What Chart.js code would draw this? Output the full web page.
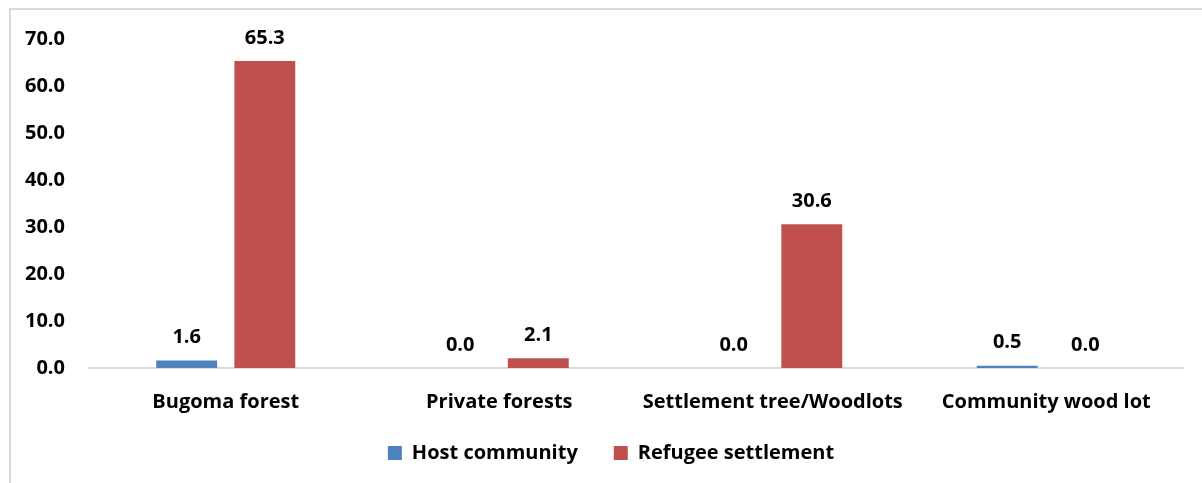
<!DOCTYPE html>
<html>
<head>
<meta charset="utf-8">
<script src="https://cdn.jsdelivr.net/npm/chart.js@4.4.1/dist/chart.umd.min.js"></script>
<style>
  html, body { margin: 0; padding: 0; background: #fff; }
  #wrap { position: relative; width: 1202px; height: 483px; overflow: hidden; }
  #frame { position: absolute; left: 9px; top: 8px; width: 1240px; height: 520px; border: 2px solid #d9d9d9; box-sizing: border-box; }
  #c { position: absolute; left: 0; top: 0; }
</style>
</head>
<body>
<div id="wrap">
  <div id="frame"></div>
  <canvas id="c" width="1202" height="483"></canvas>
</div>
<script>
const categories = ['Bugoma forest', 'Private forests', 'Settlement tree/Woodlots', 'Community wood lot'];
const hostValues = [1.6, 0.0, 0.0, 0.5];
const refugeeValues = [65.3, 2.1, 30.6, 0.0];
const yTicks = [0, 10, 20, 30, 40, 50, 60, 70];

const FONT = '"Open Sans", "Noto Sans", sans-serif';
const FSIZE = 20;

const valueLabels = {
    id: 'valueLabels',
    afterDatasetsDraw(chart) {
        const ctx = chart.ctx;
        ctx.save();
        ctx.font = 'bold ' + FSIZE + 'px ' + FONT;
        ctx.fillStyle = '#000';
        ctx.textAlign = 'center';
        ctx.textBaseline = 'middle';
        chart.data.datasets.forEach((ds, i) => {
            chart.getDatasetMeta(i).data.forEach((bar, j) => {
                ctx.fillText(ds.data[j].toFixed(1), bar.x, bar.y - 23);
            });
        });
        ctx.restore();
    }
};

// legend row: take less room under the axis labels and sit a bit right of centre
const legendPlace = {
    id: 'legendPlace',
    beforeLayout(chart) {
        const lg = chart.legend;
        if (lg && !lg._patched) {
            const fit = lg.fit;
            lg.fit = function () { fit.call(this); this.height -= 20; };
            lg._patched = true;
        }
    },
    afterLayout(chart) {
        const lg = chart.legend;
        if (!lg) return;
        lg.top -= 20;
        lg.left += 38;
    }
};

new Chart(document.getElementById('c'), {
    type: 'bar',
    data: {
        labels: categories,
        datasets: [
            { label: 'Host community', data: hostValues, backgroundColor: '#4f81bd',
              categoryPercentage: 0.571, barPercentage: 0.78 },
            { label: 'Refugee settlement', data: refugeeValues, backgroundColor: '#c0504d',
              categoryPercentage: 0.571, barPercentage: 0.78 }
        ]
    },
    options: {
        responsive: false,
        animation: false,
        layout: { padding: { left: 1, right: 19, top: 39, bottom: 10 } },
        plugins: {
            tooltip: { enabled: false },
            legend: {
                position: 'bottom',
                labels: {
                    color: '#000',
                    font: { family: FONT, size: FSIZE, weight: 'bold' },
                    boxWidth: 14,
                    boxHeight: 14,
                    padding: 36
                }
            }
        },
        scales: {
            x: {
                grid: { display: false, drawTicks: false },
                border: { color: '#d9d9d9', width: 2 },
                ticks: {
                    color: '#000',
                    padding: 22,
                    font: { family: FONT, size: FSIZE, weight: 'bold' }
                },
                afterFit: axis => { axis.height -= 9; }
            },
            y: {
                min: 0,
                max: 70,
                afterBuildTicks: axis => { axis.ticks = yTicks.map(v => ({ value: v })); },
                grid: { display: false, drawTicks: false },
                border: { display: false },
                ticks: {
                    color: '#000',
                    padding: 24,
                    font: { family: FONT, size: FSIZE, weight: 'bold' },
                    callback: v => v.toFixed(1)
                }
            }
        }
    },
    plugins: [valueLabels, legendPlace]
});
</script>
</body>
</html>
